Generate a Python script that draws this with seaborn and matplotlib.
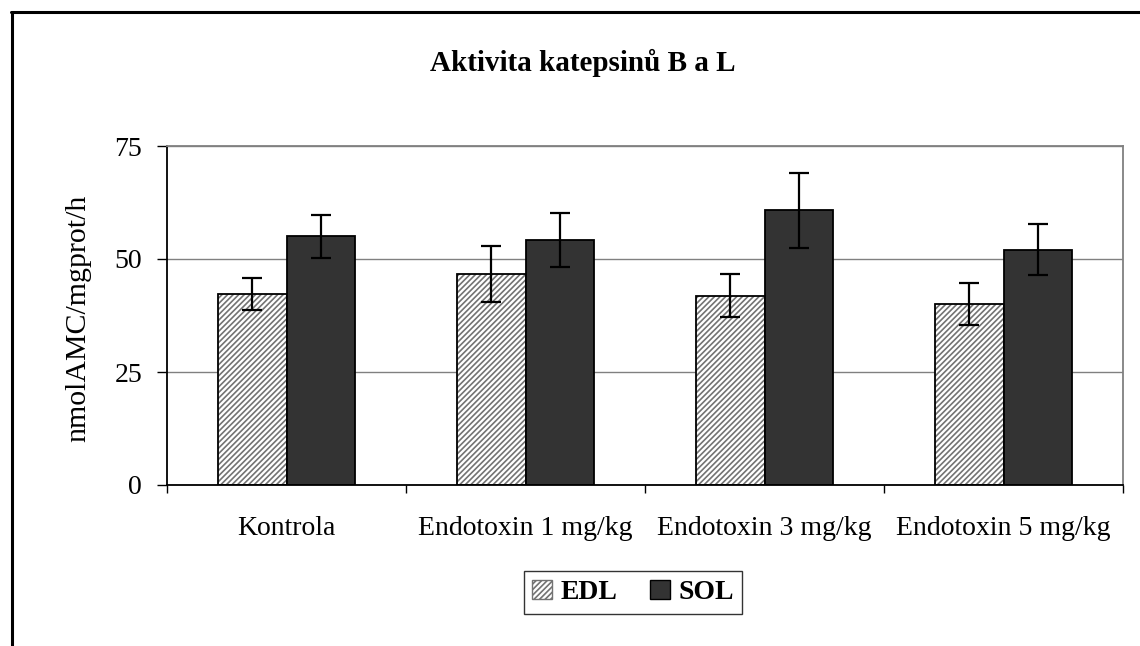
import numpy as np
import pandas as pd
import matplotlib
matplotlib.use('Agg')
import matplotlib.pyplot as plt
import matplotlib.patches as mpatches
import matplotlib.lines as mlines
import seaborn as sns

categories = ["Kontrola", "Endotoxin 1 mg/kg", "Endotoxin 3 mg/kg", "Endotoxin 5 mg/kg"]
series = ["EDL", "SOL"]
edl_values = [42.2, 46.7, 41.9, 40.0]
sol_values = [55.0, 54.2, 60.8, 52.1]
edl_err = [3.5, 6.2, 4.7, 4.6]
sol_err = [4.7, 6.0, 8.3, 5.6]
yticks = [0, 25, 50, 75]
title = "Aktivita katepsinů B a L"
ylabel = "nmolAMC/mgprot/h"

sns.set_theme(style='white')
plt.rcParams['font.family'] = ['Liberation Serif', 'DejaVu Serif']
plt.rcParams['hatch.linewidth'] = 1.2
for k in ['text.color', 'axes.labelcolor', 'xtick.color', 'ytick.color']:
    plt.rcParams[k] = 'black'

W, H = 1140, 646
fig = plt.figure(figsize=(W / 100, H / 100), dpi=100)
fig.patch.set_facecolor('white')
ax = fig.add_axes([167 / W, 1 - 485 / H, (1123 - 167) / W, (485 - 146) / H])

df = pd.DataFrame({
    'cat': categories * 2,
    'series': [series[0]] * 4 + [series[1]] * 4,
    'value': edl_values + sol_values,
})
sns.barplot(data=df, x='cat', y='value', hue='series', order=categories,
            hue_order=series, palette={'EDL': 'white', 'SOL': '#333333'},
            width=0.573, errorbar=None, edgecolor='black', linewidth=1.3,
            saturation=1, legend=False, ax=ax, zorder=2)

hatch_col = (0.45, 0.45, 0.45, 1)
for p in ax.containers[0]:
    p.set_hatch('//////')
    p._hatch_color = hatch_col

for cont, errs in zip(ax.containers, [edl_err, sol_err]):
    xs = [p.get_x() + p.get_width() / 2 for p in cont]
    ys = [p.get_height() for p in cont]
    ax.errorbar(xs, ys, yerr=errs, fmt='none', ecolor='black',
                elinewidth=1.6, capsize=7, capthick=1.6, zorder=3)

ax.set_ylim(0, 75)
ax.set_xlim(-0.5, 3.5)
ax.set_yticks(yticks)
ax.set_yticklabels([str(v) for v in yticks], fontsize=20)
ax.tick_params(axis='y', which='major', left=True, direction='out', length=7,
               width=1, pad=11, color='black', labelcolor='black')
ax.set_xticks([-0.5, 0.5, 1.5, 2.5, 3.5])
ax.set_xticklabels([''] * 5)
ax.set_xticks(range(len(categories)), minor=True)
ax.set_xticklabels(categories, minor=True, fontsize=20)
ax.tick_params(axis='x', which='major', bottom=True, direction='out', length=6,
               width=1, color='black')
ax.tick_params(axis='x', which='minor', bottom=True, length=0, pad=22,
               labelcolor='black')
ax.set_xlabel('')
ax.set_ylabel('')

ax.yaxis.grid(True, color='#808080', linewidth=1)
ax.set_axisbelow(True)
for s in ['top', 'right']:
    ax.spines[s].set_color('#808080')
    ax.spines[s].set_linewidth(1.3)
for s in ['left', 'bottom']:
    ax.spines[s].set_color('black')
    ax.spines[s].set_linewidth(1.3)

fig.text(583 / W, 1 - 63 / H, title, ha='center', va='center',
         fontsize=21, fontweight='bold', color='black')
fig.text(78 / W, 1 - 318 / H, ylabel, ha='center', va='center',
         rotation=90, fontsize=21.5, color='black')

handles = [
    mpatches.Patch(facecolor='white', edgecolor=hatch_col, hatch='//////', linewidth=1, label='EDL'),
    mpatches.Patch(facecolor='#333333', edgecolor='black', linewidth=1, label='SOL'),
]
leg = fig.legend(handles=handles, loc='center', bbox_to_anchor=(633 / W, 1 - 592.5 / H),
                 ncol=2, frameon=True, fancybox=False, edgecolor='black',
                 prop={'weight': 'bold', 'size': 20, 'family': ['Liberation Serif']},
                 handlelength=0.7, handleheight=0.7, handletextpad=0.3,
                 columnspacing=1.2, borderpad=0.3)
leg.get_frame().set_linewidth(1.0)
for t in leg.get_texts():
    t.set_color('black')

fig.add_artist(mlines.Line2D([12 / W, 12 / W], [0, 1 - 12 / H], color='black',
                             linewidth=2.2, transform=fig.transFigure))
fig.add_artist(mlines.Line2D([11 / W, 1], [1 - 12 / H, 1 - 12 / H], color='black',
                             linewidth=2.2, transform=fig.transFigure))

fig.savefig('out.png', dpi=100)
